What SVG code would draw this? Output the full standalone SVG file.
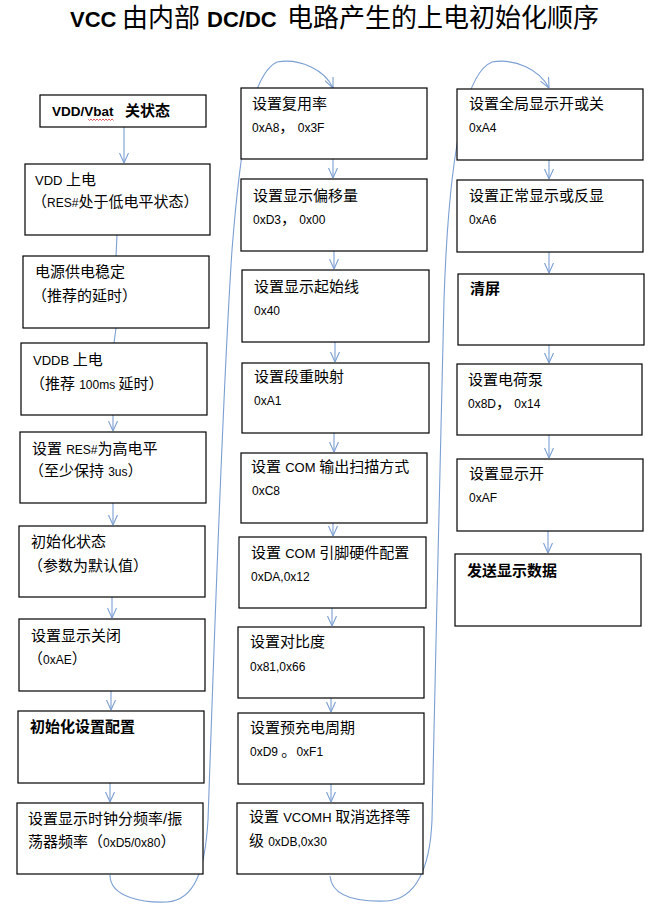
<svg xmlns="http://www.w3.org/2000/svg" width="661" height="916" viewBox="0 0 661 916">
<style>
rect.b{fill:#fff;stroke:#000;stroke-width:1.2}
text{font-family:"Liberation Sans","Noto Sans CJK SC",sans-serif;font-size:15px;fill:#000}
.l{font-size:13px}
.s{font-size:12px}
.bd{font-weight:bold}
.c{fill:none;stroke:#7b9fd3;stroke-width:1.1}
.ti{font-size:26px}
.tl{font-size:22px;font-weight:bold}
</style>
<defs>
<marker id="ah" viewBox="0 0 10 10" refX="10" refY="5" markerWidth="10" markerHeight="10" markerUnits="userSpaceOnUse" orient="auto">
<path d="M0,0.5 L10,5 L0,9.5" fill="none" stroke="#7b9fd3" stroke-width="1.1"/>
</marker>
</defs>
<rect width="661" height="916" fill="#fff"/>
<text id="title" class="ti" y="27"><tspan class="tl" x="70">VCC</tspan><tspan x="122">由内部</tspan><tspan class="tl" x="207">DC/DC</tspan><tspan x="287">电路产生的上电初始化顺序</tspan></text>

<g id="connectors">
<path class="c" d="M124,127 L124,163" marker-end="url(#ah)"/>
<path class="c" d="M117,235 L116,256"/>
<path class="c" d="M116,328 L114,343"/>
<path class="c" d="M113,415 L113,431" marker-end="url(#ah)"/>
<path class="c" d="M113,503 L113,525" marker-end="url(#ah)"/>
<path class="c" d="M112,597 L112,618" marker-end="url(#ah)"/>
<path class="c" d="M111,691 L111,710" marker-end="url(#ah)"/>
<path class="c" d="M110,783 L110,802" marker-end="url(#ah)"/>
<path class="c" d="M333,159 L333,178" marker-end="url(#ah)"/>
<path class="c" d="M334,251 L334,269" marker-end="url(#ah)"/>
<path class="c" d="M335,342 L335,362" marker-end="url(#ah)"/>
<path class="c" d="M334,433 L334,452" marker-end="url(#ah)"/>
<path class="c" d="M333,523 L333,536" marker-end="url(#ah)"/>
<path class="c" d="M332,608 L332,626" marker-end="url(#ah)"/>
<path class="c" d="M331,698 L331,712" marker-end="url(#ah)"/>
<path class="c" d="M331,784 L331,802" marker-end="url(#ah)"/>
<path class="c" d="M549,160 L549,179" marker-end="url(#ah)"/>
<path class="c" d="M549,252 L549,273" marker-end="url(#ah)"/>
<path class="c" d="M549,345 L549,363" marker-end="url(#ah)"/>
<path class="c" d="M549,435 L549,458" marker-end="url(#ah)"/>
<path class="c" d="M548,531 L548,553" marker-end="url(#ah)"/>
<path class="c" d="M110,875 C110,898 145,903 167,902 C195,900 205,870 208,820 C214,650 222,400 232,250 C240,150 250,75 277,62 C300,58 325,70 333,88" marker-end="url(#ah)"/>
<path class="c" d="M330,876 C332,898 360,902 387,901 C415,899 430,870 432,820 C436,650 440,450 444,300 C448,180 460,75 492,62 C515,58 540,70 549,88" marker-end="url(#ah)"/>
</g>

<g id="n1"><rect class="b" x="40" y="95" width="166" height="32"/><text class="bd" x="52" y="116"><tspan font-size="13.5">VDD/Vbat</tspan><tspan x="125">关状态</tspan></text><path d="M88,119 l1.5,1.5 l1.5,-1.5 l1.5,1.5 l1.5,-1.5 l1.5,1.5 l1.5,-1.5 l1.5,1.5 l1.5,-1.5 l1.5,1.5 l1.5,-1.5 l1.5,1.5 l1.5,-1.5 l1.5,1.5 l1.5,-1.5 l1.5,1.5 l1.5,-1.5 l1.5,1.5" fill="none" stroke="#e03030" stroke-width="0.8"/></g>
<g id="n2"><rect class="b" x="25" y="164" width="185" height="71"/><text x="35" y="185"><tspan class="l">VDD </tspan>上电</text><text x="32" y="207">（<tspan class="s">RES#</tspan>处于低电平状态）</text></g>
<g id="n3"><rect class="b" x="23" y="256" width="186" height="72"/><text x="35" y="277">电源供电稳定</text><text x="32" y="301">（推荐的延时）</text></g>
<g id="n4"><rect class="b" x="21" y="343" width="186" height="72"/><text x="33" y="365"><tspan class="l">VDDB </tspan>上电</text><text x="30" y="389">（推荐 <tspan class="s">100ms </tspan>延时）</text></g>
<g id="n5"><rect class="b" x="20" y="432" width="186" height="71"/><text x="32" y="454">设置 <tspan class="s">RES#</tspan>为高电平</text><text x="29" y="476">（至少保持 <tspan class="s">3us</tspan>）</text></g>
<g id="n6"><rect class="b" x="19" y="526" width="186" height="71"/><text x="31" y="547">初始化状态</text><text x="28" y="571">（参数为默认值）</text></g>
<g id="n7"><rect class="b" x="19" y="619" width="186" height="72"/><text x="31" y="641">设置显示关闭</text><text x="28" y="664">（<tspan class="s">0xAE</tspan>）</text></g>
<g id="n8"><rect class="b" x="18" y="711" width="186" height="72"/><text class="bd" x="30" y="732">初始化设置配置</text></g>
<g id="n9"><rect class="b" x="17" y="803" width="186" height="71"/><text x="28" y="824">设置显示时钟分频率/振</text><text x="28" y="847">荡器频率（<tspan class="s">0xD5/0x80</tspan>）</text></g>

<g id="m1"><rect class="b" x="241" y="88" width="186" height="71"/><text x="252" y="109">设置复用率</text><text class="s" x="252" y="132">0xA8<tspan font-size="15">，</tspan> 0x3F</text></g>
<g id="m2"><rect class="b" x="241" y="179" width="186" height="72"/><text x="253" y="201">设置显示偏移量</text><text class="s" x="253" y="224">0xD3<tspan font-size="15">，</tspan> 0x00</text></g>
<g id="m3"><rect class="b" x="242" y="270" width="187" height="72"/><text x="254" y="292">设置显示起始线</text><text class="s" x="254" y="315">0x40</text></g>
<g id="m4"><rect class="b" x="242" y="363" width="187" height="70"/><text x="254" y="382">设置段重映射</text><text class="s" x="254" y="405">0xA1</text></g>
<g id="m5"><rect class="b" x="241" y="453" width="186" height="70"/><text x="251" y="472">设置 <tspan class="l">COM </tspan>输出扫描方式</text><text class="s" x="252" y="495">0xC8</text></g>
<g id="m6"><rect class="b" x="239" y="537" width="187" height="71"/><text x="251" y="558">设置 <tspan class="l">COM </tspan>引脚硬件配置</text><text class="s" x="251" y="581">0xDA,0x12</text></g>
<g id="m7"><rect class="b" x="238" y="627" width="186" height="71"/><text x="250" y="647">设置对比度</text><text class="s" x="250" y="671">0x81,0x66</text></g>
<g id="m8"><rect class="b" x="238" y="713" width="186" height="71"/><text x="250" y="733">设置预充电周期</text><text class="s" x="250" y="756">0xD9 <tspan font-size="15">。</tspan>0xF1</text></g>
<g id="m9"><rect class="b" x="237" y="803" width="186" height="71"/><text x="249" y="822">设置 <tspan class="l">VCOMH </tspan>取消选择等</text><text x="249" y="846">级 <tspan class="s">0xDB,0x30</tspan></text></g>

<g id="r1"><rect class="b" x="457" y="89" width="186" height="71"/><text x="469" y="109">设置全局显示开或关</text><text class="s" x="469" y="132">0xA4</text></g>
<g id="r2"><rect class="b" x="457" y="180" width="186" height="72"/><text x="469" y="201">设置正常显示或反显</text><text class="s" x="469" y="224">0xA6</text></g>
<g id="r3"><rect class="b" x="458" y="274" width="186" height="71"/><text class="bd" x="470" y="294">清屏</text></g>
<g id="r4"><rect class="b" x="457" y="364" width="185" height="71"/><text x="468" y="385">设置电荷泵</text><text class="s" x="468" y="408">0x8D<tspan font-size="15">，</tspan> 0x14</text></g>
<g id="r5"><rect class="b" x="457" y="459" width="186" height="72"/><text x="469" y="479">设置显示开</text><text class="s" x="469" y="502">0xAF</text></g>
<g id="r6"><rect class="b" x="455" y="554" width="186" height="72"/><text class="bd" x="467" y="576">发送显示数据</text></g>
</svg>
